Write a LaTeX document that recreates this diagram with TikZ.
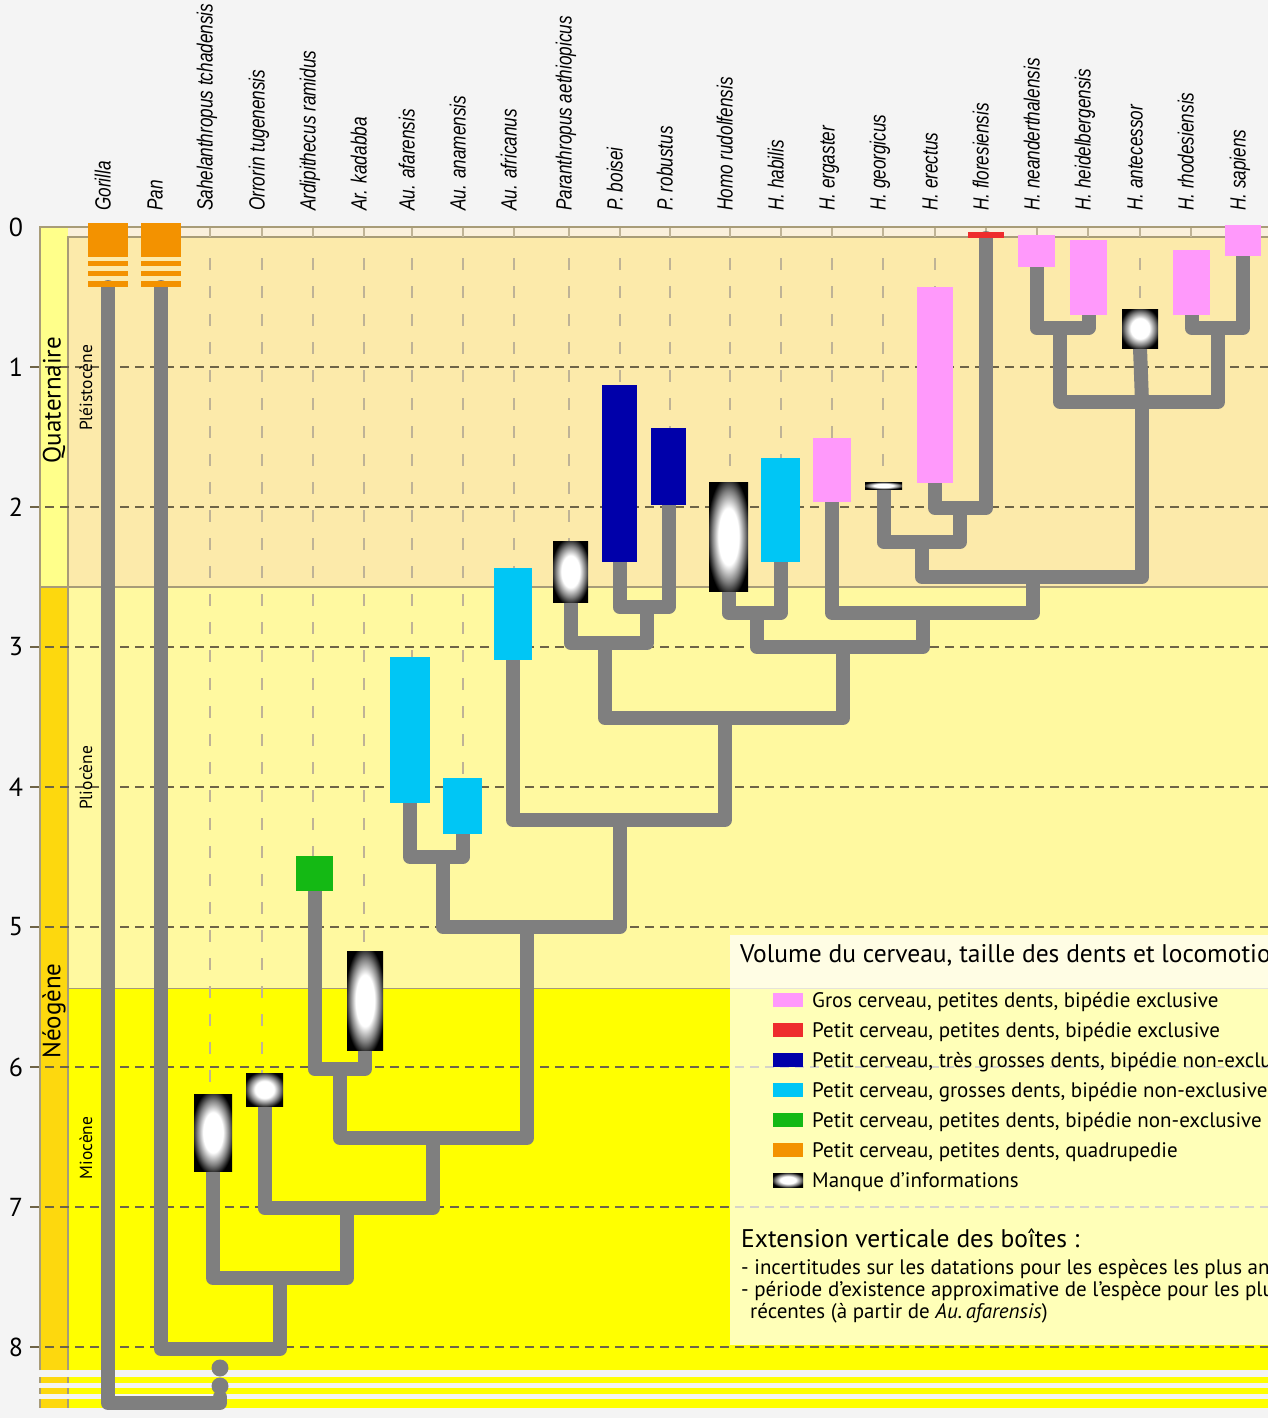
\documentclass[tikz,border=0pt]{standalone}
\usepackage{fontspec}
\setmainfont{PT Sans}
\newfontfamily\labfont{Liberation Sans}
\usetikzlibrary{fit}
\definecolor{bgc}{HTML}{F4F4F4}
\definecolor{quatc}{HTML}{FCEAAA}
\definecolor{stripc}{HTML}{FAF0DC}
\definecolor{plioc}{HTML}{FFF9A0}
\definecolor{mioc}{HTML}{FFFF00}
\definecolor{colq}{HTML}{FFFF8A}
\definecolor{coln}{HTML}{FDD80E}
\definecolor{borderc}{HTML}{A89C78}
\definecolor{branchc}{HTML}{7F7F7F}
\definecolor{orangec}{HTML}{F39200}
\definecolor{greenc}{HTML}{14B914}
\definecolor{cyanc}{HTML}{00C6F5}
\definecolor{navyc}{HTML}{0000AA}
\definecolor{pinkc}{HTML}{FF99FB}
\definecolor{redc}{HTML}{EE2D2D}
\definecolor{vdashc}{HTML}{BFB396}
\definecolor{hdashc}{HTML}{6E6447}
\pgfdeclareradialshading{glow}{\pgfpointorigin}{color(0bp)=(white); color(13bp)=(white); color(21bp)=(black!50); color(28bp)=(black); color(50bp)=(black)}
\pgfdeclarelayer{bg}
\pgfdeclarelayer{lines}
\pgfsetlayers{bg,lines,main}
\begin{document}
\begin{tikzpicture}[x=1pt,y=-1pt,
  sp/.style={inner sep=0pt,outer sep=0pt,draw=none},
  nodata/.style={sp,shade,shading=glow},
  branch/.style={draw=branchc,line width=14pt,line cap=round,line join=round},
  hdash/.style={draw=hdashc,line width=1.1pt,dash pattern=on 9pt off 6pt},
  vdash/.style={draw=vdashc,line width=2.5pt,dash pattern=on 12pt off 16pt},
  vtick/.style={draw=vdashc,line width=2pt},
  border/.style={draw=borderc,line width=1.5pt},
  splabel/.style={font=\labfont\itshape\fontsize{22}{22}\selectfont,rotate=90,anchor=mid west,inner sep=0pt},
  axnum/.style={font=\fontsize{26}{26}\selectfont,inner sep=0pt},
  eralab/.style={font=\fontsize{25}{25}\selectfont,rotate=90,inner sep=0pt},
  epochlab/.style={font=\fontsize{17.5}{17.5}\selectfont,rotate=90,inner sep=0pt},
  legtext/.style={font=\fontsize{21}{21}\selectfont,anchor=base west,inner sep=0pt},
  swatch/.style={sp,minimum width=30pt,minimum height=14pt}]
\useasboundingbox (0,0) rectangle (1268,1418);
\clip (0,0) rectangle (1268,1418);

% ---------- time scale background ----------
\begin{pgfonlayer}{bg}
\fill[bgc] (0,0) rectangle (1268,1418);
\fill[stripc] (68,227) rectangle (1268,237);
\fill[quatc] (68,237) rectangle (1268,587);
\fill[plioc] (68,587) rectangle (1268,988);
\fill[mioc] (68,988) rectangle (1268,1370);
\fill[colq] (40,227) rectangle (68,587);
\fill[coln] (40,587) rectangle (68,1370);
% broken axis below 8 Ma
\foreach \a/\b in {1377/1383,1388/1394,1399/1408}{
  \fill[mioc] (68,\a) rectangle (1268,\b);
  \fill[coln] (40,\a) rectangle (68,\b);
  \draw[border] (40,\a) -- (40,\b);
  \draw[border] (68,\a) -- (68,\b);
}
\draw[border] (40,1370) -- (40,227) -- (1268,227);
\draw[border] (68,1370) -- (68,237) -- (1268,237);
\draw[border] (40,587) -- (1268,587);
\draw[draw=borderc,line width=1pt] (68,988) -- (1268,988);
% million-year lines
\foreach \t in {1,...,8}{
  \draw[hdash] (30,{227+140*\t}) -- (1268,{227+140*\t});
}
% species columns
\foreach \x in {210,262,313,364,412,463,514,569,620,670,730,781,832,883,935,986,1037,1088,1140,1191,1243}{
  \draw[vtick] (\x,228) -- (\x,237);
}
\foreach \x/\y in {210/1094,262/1073,313/856,364/951,412/657,463/778,514/568,569/541,620/385,670/428,730/482,781/458,832/438,883/482,935/287,1140/309}{
  \draw[vdash] (\x,258) -- (\x,\y);
}
\end{pgfonlayer}

% ---------- axis ----------
\foreach \t in {0,...,8}{
  \node[axnum] (tick\t) at (16,{227+140*\t}) {\t};
}
\node[eralab] (quat) at (54,400) {Quaternaire};
\node[eralab] (neog) at (54,1011) {Néogène};
\node[epochlab] (pleist) at (86,388) {Pléistocène};
\node[epochlab] (plioc) at (86,778) {Pliocène};
\node[epochlab] (mioc) at (86,1148) {Miocène};

% ---------- species boxes ----------
\node[sp,fill=orangec,fit={(88,223) (128,257)}] (gor) {};
\node[sp,fill=orangec,fit={(88,261) (128,266)}] (gorA) {};
\node[sp,fill=orangec,fit={(88,271) (128,276)}] (gorB) {};
\node[sp,fill=orangec,fit={(88,281) (128,287)}] (gorC) {};
\node[sp,fill=orangec,fit={(141,223) (181,257)}] (pan) {};
\node[sp,fill=orangec,fit={(141,261) (181,266)}] (panA) {};
\node[sp,fill=orangec,fit={(141,271) (181,276)}] (panB) {};
\node[sp,fill=orangec,fit={(141,281) (181,287)}] (panC) {};
\node[nodata,fit={(194,1094) (232,1171)}] (sah) {};
\node[nodata,fit={(246,1073) (283,1106)}] (orr) {};
\node[sp,fill=greenc,fit={(296,856) (333,891)}] (ardi) {};
\node[nodata,fit={(347,951) (383,1050)}] (kad) {};
\node[sp,fill=cyanc,fit={(390,657) (430,803)}] (afar) {};
\node[sp,fill=cyanc,fit={(443,778) (482,834)}] (anam) {};
\node[sp,fill=cyanc,fit={(494,568) (532,660)}] (afric) {};
\node[nodata,fit={(553,541) (588,602)}] (paran) {};
\node[sp,fill=navyc,fit={(602,385) (637,562)}] (bois) {};
\node[sp,fill=navyc,fit={(651,428) (686,505)}] (robu) {};
\node[nodata,fit={(709,482) (748,591)}] (rudo) {};
\node[sp,fill=cyanc,fit={(761,458) (800,562)}] (habi) {};
\node[sp,fill=pinkc,fit={(813,438) (851,502)}] (erga) {};
\node[nodata,fit={(865,482) (902,489)}] (geor) {};
\node[sp,fill=pinkc,fit={(917,287) (953,483)}] (erec) {};
\node[sp,fill=redc,fit={(968,232) (1004,238)}] (flor) {};
\node[sp,fill=pinkc,fit={(1018,235) (1055,267)}] (nean) {};
\node[sp,fill=pinkc,fit={(1070,240) (1107,315)}] (heid) {};
\node[nodata,fit={(1122,309) (1158,348)}] (ante) {};
\node[sp,fill=pinkc,fit={(1173,250) (1210,315)}] (rhod) {};
\node[sp,fill=pinkc,fit={(1225,225) (1261,256)}] (sapi) {};

% ---------- tree ----------
\coordinate (cA) at (280,1278);
\coordinate (cB) at (347,1208);
\coordinate (cC) at (433,1138);
\coordinate (cD) at (340,1069);
\coordinate (cE) at (527,927);
\coordinate (cF) at (443,857);
\coordinate (cG) at (620,820);
\coordinate (cH) at (725,718);
\coordinate (cI) at (605,643);
\coordinate (cJ) at (647,607);
\coordinate (cK) at (843,647);
\coordinate (cL) at (757,613);
\coordinate (cM) at (923,613);
\coordinate (cN) at (1033,577);
\coordinate (cO) at (922,542);
\coordinate (cP) at (960,508);
\coordinate (cQ) at (1142,402);
\coordinate (cR) at (1060,328);
\coordinate (cS) at (1218,328);
\coordinate (r0) at (220,1349);
\coordinate (r1) at (220,1403);
\coordinate (r2) at (220,1397);
\begin{pgfonlayer}{lines}
\draw[branch] (panC.south) |- (r0) -| (cA);
\draw[branch] (gorC.south) |- (r1) -- (r2);
\fill[branchc] (220,1368) circle (8.5);
\fill[branchc] (220,1386) circle (8.5);
\draw[branch] (sah.south) |- (cA) -| (cB);
\draw[branch] (orr.south) |- (cB) -| (cC);
\draw[branch] (cD) |- (cC) -| (cE);
\draw[branch] (ardi.south) |- (cD) -| (kad.south);
\draw[branch] (cF) |- (cE) -| (cG);
\draw[branch] (afar.south) |- (cF) -| (anam.south);
\draw[branch] (afric.south) |- (cG) -| (cH);
\draw[branch] (cI) |- (cH) -| (cK);
\draw[branch] (paran.south) |- (cI) -| (cJ);
\draw[branch] (bois.south) |- (cJ) -| (robu.south);
\draw[branch] (cL) |- (cK) -| (cM);
\draw[branch] (rudo.south) |- (cL) -| (habi.south);
\draw[branch] (erga.south) |- (cM) -| (cN);
\draw[branch] (cO) |- (cN) -| (cQ);
\draw[branch] (geor.south) |- (cO) -| (cP);
\draw[branch] (erec.south) |- (cP) -| (flor.south);
\draw[branch] (ante.south) -- (cQ);
\draw[branch] (cR) |- (cQ) -| (cS);
\draw[branch] (nean.south) |- (cR) -| (heid.south);
\draw[branch] (rhod.south) |- (cS) -| (sapi.south);
\end{pgfonlayer}

% ---------- species names ----------
\foreach \x/\t [count=\i] in {108/Gorilla,160/Pan,210/Sahelanthropus tchadensis,262/Orrorin tugenensis,
  313/Ardipithecus ramidus,364/Ar. kadabba,412/Au. afarensis,463/Au. anamensis,514/Au. africanus,
  569/Paranthropus aethiopicus,620/P. boisei,670/P. robustus,730/Homo rudolfensis,781/H. habilis,
  832/H. ergaster,883/H. georgicus,935/H. erectus,986/H. floresiensis,1037/H. neanderthalensis,
  1088/H. heidelbergensis,1140/H. antecessor,1191/H. rhodesiensis,1243/H. sapiens}{
  \node[splabel] (name\i) at (\x,211) {\scalebox{0.78}[1]{\t}};
}

% ---------- legend ----------
\node[sp,fill=white,fill opacity=0.72,fit={(730,935) (1268,1345)}] (legend) {};
\node[anchor=base west,inner sep=0pt,font=\fontsize{25.5}{25.5}\selectfont] (legtitle) at (740,962)
  {Volume du cerveau, taille des dents et locomotion};
\foreach \c/\t [count=\i] in {pinkc/{Gros cerveau, petites dents, bipédie exclusive},
  redc/{Petit cerveau, petites dents, bipédie exclusive},
  navyc/{Petit cerveau, très grosses dents, bipédie non-exclusive},
  cyanc/{Petit cerveau, grosses dents, bipédie non-exclusive},
  greenc/{Petit cerveau, petites dents, bipédie non-exclusive},
  orangec/{Petit cerveau, petites dents, quadrupedie}}{
  \node[swatch,fill=\c] (sw\i) at (788,{1000+30*(\i-1)}) {};
  \node[legtext] (lt\i) at (812,{1007+30*(\i-1)}) {\t};
}
\node[swatch,shade,shading=glow] (sw7) at (788,1180) {};
\node[legtext] (lt7) at (812,1187) {Manque d’informations};
\node[anchor=base west,inner sep=0pt,font=\fontsize{25.5}{25.5}\selectfont] (exttitle) at (741,1247)
  {Extension verticale des boîtes :};
\node[legtext] (ext1) at (741,1274)
  {- incertitudes sur les datations pour les espèces les plus anciennes};
\node[legtext] (ext2) at (741,1296)
  {- période d’existence approximative de l’espèce pour les plus};
\node[legtext] (ext3) at (750,1318)
  {récentes (à partir de \textit{Au.\,afarensis})};
\end{tikzpicture}
\end{document}
